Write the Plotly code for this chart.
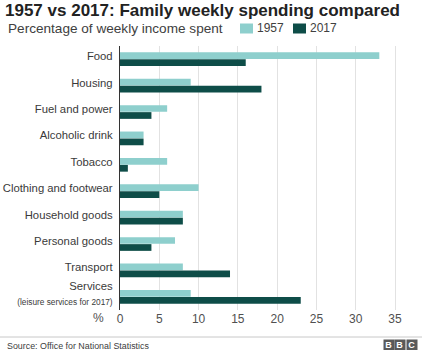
import plotly.graph_objects as go

categories = ["Food", "Housing", "Fuel and power", "Alcoholic drink", "Tobacco",
              "Clothing and footwear", "Household goods", "Personal goods",
              "Transport", "Services"]
tick_labels = ["Food", "Housing", "Fuel and power", "Alcoholic drink", "Tobacco",
               "Clothing and footwear", "Household goods", "Personal goods",
               "Transport",
               "Services<br><span style='font-size:8.3px'>(leisure services for 2017)</span>"]
values_1957 = [33, 9, 6, 3, 6, 10, 8, 7, 8, 9]
values_2017 = [16, 18, 4, 3, 1, 5, 8, 4, 14, 23]
x_ticks = [0, 5, 10, 15, 20, 25, 30, 35]

C1957 = "#8ecfcd"
C2017 = "#0e4d48"
FONT = "Liberation Sans, Arial, sans-serif"

W, H = 422, 350
ML, MR, MT, MB = 120, 14, 46, 40
PW, PH = W - ML - MR, H - MT - MB

def px_x(p):
    return (p - ML) / PW

def px_y(p):
    return (H - MB - p) / PH

fig = go.Figure()
fig.add_trace(go.Bar(y=categories, x=values_1957, orientation="h", name="1957",
                     marker=dict(color=C1957, line=dict(width=0)), showlegend=False))
fig.add_trace(go.Bar(y=categories, x=values_2017, orientation="h", name="2017",
                     marker=dict(color=C2017, line=dict(width=0)), showlegend=False))

shapes = [
    dict(type="line", xref="paper", yref="paper", x0=px_x(0), x1=px_x(W),
         y0=px_y(337), y1=px_y(337), line=dict(color="#c8c8c8", width=1)),
    dict(type="rect", xref="paper", yref="paper", x0=px_x(240), x1=px_x(253),
         y0=px_y(33.5), y1=px_y(23.5), fillcolor=C1957, line=dict(width=0)),
    dict(type="rect", xref="paper", yref="paper", x0=px_x(293), x1=px_x(306),
         y0=px_y(33.5), y1=px_y(23.5), fillcolor=C2017, line=dict(width=0)),
]

annotations = [
    dict(text="Percentage of weekly income spent", xref="paper", yref="paper",
         x=px_x(6), y=px_y(28.5), xanchor="left", yanchor="middle", showarrow=False,
         font=dict(size=13.6, color="#404040", family=FONT)),
    dict(text="1957", xref="paper", yref="paper", x=px_x(255), y=px_y(28.5),
         xanchor="left", yanchor="middle", showarrow=False,
         font=dict(size=12, color="#404040", family=FONT)),
    dict(text="2017", xref="paper", yref="paper", x=px_x(308), y=px_y(28.5),
         xanchor="left", yanchor="middle", showarrow=False,
         font=dict(size=12, color="#404040", family=FONT)),
    dict(text="%", xref="paper", yref="paper", x=px_x(106), y=px_y(318),
         xanchor="right", yanchor="middle", showarrow=False,
         font=dict(size=12, color="#505050", family=FONT)),
    dict(text="Source: Office for National Statistics", xref="paper", yref="paper",
         x=px_x(5), y=px_y(346), xanchor="left", yanchor="middle", showarrow=False,
         font=dict(size=8.9, color="#404040", family=FONT)),
]
for i, letter in enumerate(["B", "B", "C"]):
    annotations.append(dict(text="<b>%s</b>" % letter, xref="paper", yref="paper",
                            x=px_x(389 + i * 11.3), y=px_y(344.5), xanchor="center",
                            yanchor="middle", showarrow=False, bgcolor="#5a5a5a",
                            width=9.5, height=10, borderpad=0,
                            font=dict(size=9, color="white", family=FONT)))

fig.update_layout(
    width=W, height=H,
    margin=dict(l=ML, r=MR, t=MT, b=MB, pad=0, autoexpand=False),
    paper_bgcolor="white", plot_bgcolor="white",
    barmode="group", bargap=0.47, bargroupgap=0.04,
    title=dict(text="<b>1957 vs 2017: Family weekly spending compared</b>",
               x=5 / W, xanchor="left", xref="container",
               y=1 - 10 / H, yanchor="middle", yref="container",
               font=dict(size=17, color="#222222", family=FONT)),
    xaxis=dict(range=[0, 36.65], tickvals=x_ticks, ticktext=[str(v) for v in x_ticks],
               showgrid=True, gridcolor="#e2e2e2", gridwidth=1, zeroline=False,
               showline=False, ticks="", ticklabelstandoff=0, automargin=False,
               tickfont=dict(size=12, color="#505050", family=FONT), fixedrange=True),
    yaxis=dict(categoryorder="array", categoryarray=categories, autorange="reversed",
               tickvals=categories, ticktext=tick_labels, automargin=False,
               showline=True, linecolor="#333333", linewidth=1.2, showgrid=False,
               ticks="", ticklabelstandoff=4, ticklabelshift=3,
               tickfont=dict(size=11.3, color="#3a3a3a", family=FONT), fixedrange=True),
    shapes=shapes, annotations=annotations,
)

fig.write_html("out.html")
